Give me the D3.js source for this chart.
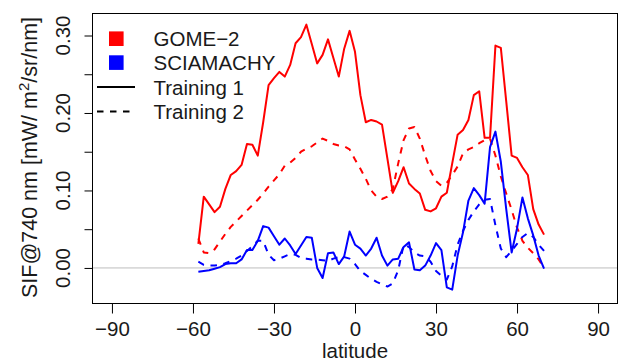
<!DOCTYPE html>
<html>
<head>
<meta charset="utf-8">
<script src="https://cdn.jsdelivr.net/npm/d3@7"></script>
<style>
  html, body { margin: 0; padding: 0; background: #fff; }
  svg { display: block; font-family: "Liberation Sans", Arial, Helvetica, sans-serif; }
</style>
</head>
<body>
<svg id="chart" width="621" height="361"></svg>
<script>
// Latitude bands (degrees)
const latitudes = [-58,-56,-54,-52,-50,-48,-46,-44,-42,-40,-38,-36,-34,-32,-30,-28,-26,-24,-22,-20,
  -18,-16,-14,-12,-10,-8,-6,-4,-2,0,2,4,6,8,10,12,14,16,18,20,22,24,26,28,30,32,34,36,38,40,
  42,44,46,48,50,52,54,56,58,60,62,64,66,68,70];

// Zonal mean SIF at 740 nm (mW/m2/sr/nm)
const gome2Training1 = [0.031,0.092,0.082,0.072,0.079,0.102,0.120,0.125,0.133,0.160,0.159,0.145,0.188,0.236,0.245,0.253,0.247,0.262,0.290,0.298,
  0.314,0.289,0.264,0.275,0.295,0.271,0.247,0.283,0.306,0.279,0.223,0.188,0.191,0.189,0.185,0.141,0.097,0.112,0.130,0.109,
  0.102,0.096,0.075,0.073,0.077,0.092,0.097,0.135,0.172,0.178,0.191,0.223,0.228,0.168,0.168,0.287,0.284,0.215,0.145,0.142,
  0.130,0.120,0.076,0.056,0.043];

const gome2Training2 = [0.038,0.020,0.019,0.024,0.034,0.044,0.053,0.060,0.067,0.074,0.081,0.088,0.096,0.105,0.113,0.121,0.132,0.136,0.142,0.150,
  0.154,0.157,0.162,0.167,0.164,0.160,0.158,0.157,0.153,0.140,0.128,0.115,0.100,0.092,0.089,0.092,0.102,0.135,0.165,0.180,
  0.182,0.167,0.145,0.125,0.112,0.106,0.110,0.120,0.131,0.148,0.153,0.156,0.161,0.165,0.167,0.145,0.118,0.096,0.075,0.052,
  0.035,0.026,0.019,0.011,0.000];

const sciaTraining1 = [-0.005,-0.004,-0.003,-0.001,0.001,0.005,0.006,0.006,0.011,0.023,0.023,0.035,0.054,0.052,0.041,0.030,0.038,0.029,0.018,0.029,
  0.040,0.039,0.000,-0.013,0.019,0.020,0.005,0.015,0.047,0.030,0.025,0.016,0.025,0.039,0.016,0.003,0.011,0.012,0.027,0.033,
  -0.002,-0.003,0.003,0.016,0.032,0.023,-0.025,-0.028,0.016,0.046,0.087,0.103,0.094,0.083,0.156,0.176,0.137,0.076,0.020,0.051,
  0.091,0.064,0.042,0.016,-0.001];

const sciaTraining2 = [0.008,0.004,0.003,0.003,0.004,0.006,0.009,0.012,0.016,0.022,0.028,0.035,0.035,0.017,0.010,0.012,0.015,0.018,0.017,0.013,
  0.012,0.011,0.011,0.010,0.009,0.012,0.014,0.014,0.012,0.005,-0.004,-0.009,-0.014,-0.018,-0.021,-0.024,-0.020,-0.003,0.030,0.027,
  0.020,0.016,0.015,0.008,-0.004,-0.010,-0.015,0.002,0.030,0.048,0.062,0.073,0.082,0.088,0.089,0.055,0.025,0.014,0.022,0.031,
  0.040,0.045,0.040,0.030,0.022];

// Axis ticks
const xTicks = [-90, -60, -30, 0, 30, 60, 90];
const yTicks = [0, 0.05, 0.10, 0.15, 0.20, 0.25, 0.30];
const yLabelTicks = [0, 0.10, 0.20, 0.30];

// Legend entries
const legendSeries = [
  { name: "GOME\u22122", color: "#ff0000" },
  { name: "SCIAMACHY", color: "#0000ff" }
];
const legendStyles = [
  { name: "Training 1", dash: null },
  { name: "Training 2", dash: "6.5,6.5" }
];

const svg = d3.select("#chart");
const box = { left: 92.5, right: 617.5, top: 13.5, bottom: 303.5 };

const x = d3.scaleLinear().domain([-97.2, 97.2]).range([box.left, box.right]);
const y = d3.scaleLinear().domain([-0.0459, 0.3284]).range([box.bottom, box.top]);

const fmt = d3.format(".2f");
const minus = s => String(s).replace("-", "\u2212");

// Zero reference line
svg.append("line")
  .attr("x1", box.left).attr("x2", box.right)
  .attr("y1", y(0)).attr("y2", y(0))
  .attr("stroke", "#bebebe").attr("stroke-width", 1);

// Series lines
const line = d3.line().x((d, i) => x(latitudes[i])).y(d => y(d));
const series = [
  { values: gome2Training1, color: "#ff0000", dash: null },
  { values: gome2Training2, color: "#ff0000", dash: "6.5,6.5" },
  { values: sciaTraining1, color: "#0000ff", dash: null },
  { values: sciaTraining2, color: "#0000ff", dash: "6.5,6.5" }
];
svg.append("g").selectAll("path").data(series).join("path")
  .attr("d", s => line(s.values))
  .attr("fill", "none")
  .attr("stroke", s => s.color)
  .attr("stroke-width", 2)
  .attr("stroke-linejoin", "round")
  .attr("stroke-dasharray", s => s.dash);

// X axis
const xAxis = svg.append("g").attr("transform", `translate(0,${box.bottom})`)
  .call(d3.axisBottom(x).tickValues(xTicks).tickSize(10).tickPadding(8).tickFormat(d => minus(d)));
xAxis.select(".domain").remove();
xAxis.selectAll("line").attr("stroke", "#000");
xAxis.selectAll("text").attr("font-size", 20.5).attr("fill", "#1a1a1a")
  .attr("font-family", "'Liberation Sans', Arial, sans-serif");

// Y axis
const yAxis = svg.append("g").attr("transform", `translate(${box.left},0)`)
  .call(d3.axisLeft(y).tickValues(yTicks).tickSize(8).tickFormat(""));
yAxis.select(".domain").remove();
yAxis.selectAll("line").attr("stroke", "#000");

svg.append("g").selectAll("text").data(yLabelTicks).join("text")
  .attr("transform", d => `translate(70,${y(d)}) rotate(-90)`)
  .attr("text-anchor", "middle")
  .attr("font-size", 20.5).attr("fill", "#1a1a1a")
  .text(d => fmt(d));

// Plot frame
svg.append("rect")
  .attr("x", box.left).attr("y", box.top)
  .attr("width", box.right - box.left).attr("height", box.bottom - box.top)
  .attr("fill", "none").attr("stroke", "#000").attr("stroke-width", 1);

// Axis titles
svg.append("text")
  .attr("x", x(0)).attr("y", 358)
  .attr("text-anchor", "middle").attr("font-size", 20.5).attr("fill", "#1a1a1a")
  .text("latitude");

const yTitle = svg.append("text")
  .attr("transform", `translate(37,${(box.top + box.bottom) / 2 - 1}) rotate(-90)`)
  .attr("text-anchor", "middle").attr("font-size", 21.5).attr("fill", "#1a1a1a");
yTitle.append("tspan").text("SIF@740 nm [mW/ m");
yTitle.append("tspan").attr("dy", -8).attr("font-size", 15).text("2");
yTitle.append("tspan").attr("dy", 8).text("/sr/nm]");

// Legend
const legend = svg.append("g");
const rowY = [38.7, 62.6, 87.0, 111.6];
legendSeries.forEach((s, i) => {
  legend.append("rect")
    .attr("x", 109).attr("y", rowY[i] - 7.3)
    .attr("width", 14.6).attr("height", 14.6)
    .attr("fill", s.color);
  legend.append("text")
    .attr("x", 153.5).attr("y", rowY[i] + 7.5)
    .attr("font-size", 20.5).attr("fill", "#1a1a1a")
    .text(s.name);
});
legendStyles.forEach((s, j) => {
  const i = j + 2;
  legend.append("line")
    .attr("x1", 97).attr("x2", 135)
    .attr("y1", rowY[i]).attr("y2", rowY[i])
    .attr("stroke", "#000").attr("stroke-width", 2)
    .attr("stroke-dasharray", s.dash);
  legend.append("text")
    .attr("x", 153.5).attr("y", rowY[i] + 7.5)
    .attr("font-size", 20.5).attr("fill", "#1a1a1a")
    .text(s.name);
});
</script>
</body>
</html>
